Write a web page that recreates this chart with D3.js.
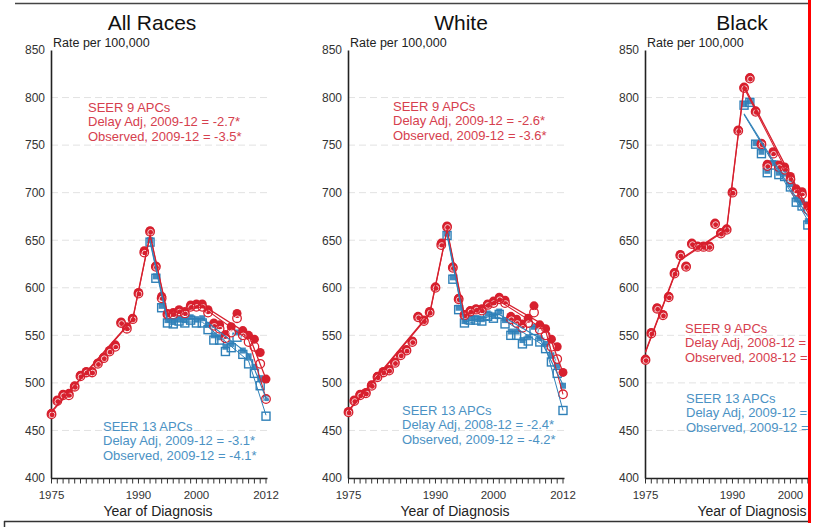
<!DOCTYPE html>
<html>
<head>
<meta charset="utf-8">
<script src="https://cdn.jsdelivr.net/npm/d3@7"></script>
<style>
  body { margin: 0; background: #fff; }
  svg { display: block; }
  text { font-family: "Liberation Sans", Arial, sans-serif; }
</style>
</head>
<body>
<svg id="chart" width="818" height="527"></svg>
<script>
// ---- categories / ticks ----
const panelTitles = ["All Races", "White", "Black"];
const yTickValues = [400, 450, 500, 550, 600, 650, 700, 750, 800, 850];
const gridValues = [450, 500, 550, 600, 650, 700, 750, 800];
const xTickLabels = [1975, 1990, 2000, 2012];
const firstYear9 = 1975;   // SEER 9 series start
const firstYear13 = 1992;  // SEER 13 series start
const lastYear = 2012;

// ---- All Races, rate per 100,000 ----
const allDelay9 = [468, 482, 488, 489, 497, 508, 512, 512, 521, 527, 534, 540, 564, 559, 568, 595, 639, 660, 623, 591,
                   573, 574, 577, 575, 582, 583, 583, 577, 563, 561, 551, 559, 573, 555, 550, 546, 532, 504];
const allObs9   = [467, 481, 487, 487, 496, 507, 511, 511, 520, 526, 533, 538, 563, 557, 567, 594, 637, 659, 622, 589,
                   572, 572, 575, 573, 580, 580, 580, 574, 560, 557, 547, 553, 568, 550, 543, 538, 520, 483];
const allDelay13 = [650, 612, 581, 566, 564, 567, 566, 569, 567, 568, 561, 550, 548, 538, 541, 553, 534, 528, 517, 505, 484];
const allObs13   = [648, 610, 579, 563, 562, 565, 563, 566, 563, 563, 556, 545, 545, 533, 537, 548, 530, 520, 510, 497, 465];
// joinpoint fits: [year, rate]
const allFitDelay9 = [[1975, 470], [1989, 567], [1992, 656], [1995, 573], [2001, 582], [2009, 551], [2012, 504]];
const allFitObs9   = [[1975, 469], [1989, 566], [1992, 655], [1995, 572], [2001, 580], [2009, 545], [2012, 484]];
const allFitDelay13 = [[1992, 650], [1995, 567], [2001, 568], [2009, 530], [2012, 484]];
const allFitObs13   = [[1992, 648], [1995, 564], [2001, 564], [2009, 523], [2012, 466]];

// ---- White ----
const whiteDelay9 = [470, 482, 488, 490, 498, 507, 512, 514, 522, 530, 535, 544, 570, 566, 575, 601, 647, 665, 622, 589,
                     572, 576, 578, 578, 583, 586, 590, 587, 570, 567, 562, 568, 581, 561, 557, 546, 538, 511];
const whiteObs9   = [469, 481, 487, 489, 497, 506, 511, 513, 521, 529, 534, 543, 569, 565, 574, 600, 645, 664, 621, 588,
                     571, 575, 577, 576, 582, 584, 588, 584, 567, 563, 558, 563, 574, 556, 550, 538, 525, 488];
const whiteDelay13 = [657, 611, 579, 565, 568, 568, 567, 573, 571, 575, 566, 554, 554, 545, 548, 559, 547, 541, 529, 518, 497];
const whiteObs13   = [655, 609, 577, 563, 566, 566, 565, 570, 568, 572, 562, 550, 550, 541, 544, 555, 543, 536, 522, 510, 471];
const whiteFitDelay9 = [[1975, 471], [1989, 573], [1992, 661], [1995, 571], [2001, 588], [2009, 560], [2012, 511]];
const whiteFitObs9   = [[1975, 470], [1989, 572], [1992, 660], [1995, 570], [2001, 586], [2009, 555], [2012, 488]];
const whiteFitDelay13 = [[1992, 657], [1995, 564], [2001, 572], [2008, 547], [2012, 498]];
const whiteFitObs13   = [[1992, 655], [1995, 562], [2001, 569], [2009, 538], [2012, 471]];

// ---- Black (1975–2003 shown) ----
const blackDelay9 = [525, 553, 579, 572, 591, 616, 635, 623, 647, 644, 644, 644, 668, 658, 662, 701, 766, 811, 821, 786,
                     752, 730, 743, 729, 727, 717, 704, 701, 686];
const blackObs9   = [524, 552, 578, 571, 590, 615, 634, 622, 646, 643, 643, 643, 667, 657, 661, 700, 765, 810, 820, 785,
                     751, 728, 741, 727, 724, 714, 701, 698, 682];
const blackDelay13 = [793, 796, 752, 743, 723, 731, 721, 720, 709, 693, 690, 670];
const blackObs13   = [792, 795, 751, 741, 721, 729, 719, 717, 706, 690, 686, 666];
const blackFitDelay9 = [[1975, 533], [1981, 630], [1989, 662], [1992, 812], [2003, 683]];
const blackFitObs9   = [[1975, 532], [1981, 629], [1989, 661], [1992, 810], [2003, 679]];
const blackFitDelay13 = [[1992, 783], [2003, 675]];
const blackFitObs13   = [[1992, 782], [2003, 671]];

// ---- APC annotations ----
const apc9Text = [
  ["SEER 9 APCs", "Delay Adj, 2009-12 = -2.7*", "Observed, 2009-12 = -3.5*"],
  ["SEER 9 APCs", "Delay Adj, 2009-12 = -2.6*", "Observed, 2009-12 = -3.6*"],
  ["SEER 9 APCs", "Delay Adj, 2008-12 =", "Observed, 2008-12 ="]
];
const apc13Text = [
  ["SEER 13 APCs", "Delay Adj, 2009-12 = -3.1*", "Observed, 2009-12 = -4.1*"],
  ["SEER 13 APCs", "Delay Adj, 2008-12 = -2.4*", "Observed, 2009-12 = -4.2*"],
  ["SEER 13 APCs", "Delay Adj, 2009-12 =", "Observed, 2009-12 ="]
];

// ---- layout ----
const panelX = [51, 348, 645];
const titleX = [152, 461, 742];
const apc9Pos = [[88, 107], [393, 106], [685, 328]];
const apc13Pos = [[103, 426], [402, 410], [686, 398]];
const plotWidth = 215;
const RED = "#d7202e", RED_TXT = "#d6404e", BLUE = "#2f80b8", BLUE_TXT = "#4b92c4";

const panels = [
  { d9: allDelay9, o9: allObs9, d13: allDelay13, o13: allObs13,
    f: [allFitDelay9, allFitObs9, allFitDelay13, allFitObs13] },
  { d9: whiteDelay9, o9: whiteObs9, d13: whiteDelay13, o13: whiteObs13,
    f: [whiteFitDelay9, whiteFitObs9, whiteFitDelay13, whiteFitObs13] },
  { d9: blackDelay9, o9: blackObs9, d13: blackDelay13, o13: blackObs13,
    f: [blackFitDelay9, blackFitObs9, blackFitDelay13, blackFitObs13] }
];

const svg = d3.select("#chart");
const y = d3.scaleLinear().domain([400, 850]).range([478, 50]);

panels.forEach((p, i) => {
  const x0 = panelX[i];
  const x = d3.scaleLinear().domain([firstYear9, lastYear]).range([x0 + 0.5, x0 + plotWidth]);
  const g = svg.append("g");

  // title
  g.append("text").attr("x", titleX[i]).attr("y", 30).attr("text-anchor", "middle")
    .attr("font-size", 21).attr("fill", "#111").text(panelTitles[i]);
  g.append("text").attr("x", x0 + 2).attr("y", 47).attr("font-size", 12.5).attr("fill", "#222")
    .text("Rate per 100,000");

  // dashed grid
  g.selectAll(".grid").data(gridValues).join("line")
    .attr("x1", x0).attr("x2", x0 + plotWidth + 3)
    .attr("y1", d => y(d)).attr("y2", d => y(d))
    .attr("stroke", "#e2e2e2").attr("stroke-width", 1).attr("stroke-dasharray", "7,4");

  // y axis
  const yAxis = d3.axisLeft(y).tickValues(yTickValues).tickSize(0).tickPadding(6);
  const ya = g.append("g").attr("transform", `translate(${x0},0)`).call(yAxis);
  ya.select(".domain").attr("stroke", "#222").attr("stroke-width", 1.6);
  ya.selectAll("text").attr("font-size", 12).attr("fill", "#333")
    .style("font-family", '"Liberation Sans", Arial, sans-serif');

  // x axis: a minor tick every year, labels at selected years
  const xa = g.append("g").attr("transform", "translate(0,478.5)");
  xa.append("line").attr("x1", x0).attr("x2", x0 + plotWidth + 1.5)
    .attr("stroke", "#222").attr("stroke-width", 1.4);
  xa.selectAll(".tk").data(d3.range(firstYear9, lastYear + 1)).join("line")
    .attr("x1", d => x(d)).attr("x2", d => x(d)).attr("y1", 0).attr("y2", 5)
    .attr("stroke", "#333").attr("stroke-width", 1);
  xa.selectAll(".lb").data(xTickLabels).join("text")
    .attr("x", d => x(d)).attr("y", 20).attr("text-anchor", "middle")
    .attr("font-size", 11.5).attr("fill", "#333").text(d => d);
  g.append("text").attr("x", x0 + 107).attr("y", 516).attr("text-anchor", "middle")
    .attr("font-size", 14).attr("fill", "#222").text("Year of Diagnosis");

  // APC notes
  [[apc9Text[i], apc9Pos[i], RED_TXT], [apc13Text[i], apc13Pos[i], BLUE_TXT]].forEach(([lines, pos, col]) => {
    g.selectAll(null).data(lines).join("text")
      .attr("x", pos[0]).attr("y", (d, k) => pos[1] + k * 14.6)
      .attr("dy", "0.35em").attr("font-size", 13).attr("fill", col).text(d => d);
  });

  const pts = (arr, start) => arr.map((v, k) => ({ yr: start + k, v }));

  // SEER 13 markers: observed open squares, delay-adjusted filled squares
  g.selectAll(".o13").data(pts(p.o13, firstYear13)).join("rect")
    .attr("x", d => x(d.yr) - 4).attr("y", d => y(d.v) - 4).attr("width", 8).attr("height", 8)
    .attr("fill", "none").attr("stroke", BLUE).attr("stroke-width", 1.4);
  g.selectAll(".d13").data(pts(p.d13, firstYear13)).join("rect")
    .attr("x", d => x(d.yr) - 3).attr("y", d => y(d.v) - 3).attr("width", 6).attr("height", 6)
    .attr("fill", BLUE).attr("opacity", 0.9);

  // SEER 9 markers: delay-adjusted filled circles, observed open circles
  g.selectAll(".d9").data(pts(p.d9, firstYear9)).join("circle")
    .attr("cx", d => x(d.yr)).attr("cy", d => y(d.v)).attr("r", 4.5).attr("fill", RED);
  g.selectAll(".o9w").data(pts(p.o9, firstYear9)).join("circle")
    .attr("cx", d => x(d.yr) + 0.6).attr("cy", d => y(d.v) + 0.6).attr("r", 2.9)
    .attr("fill", "none").attr("stroke", "#fff").attr("stroke-width", 0.9).attr("opacity", 0.85);
  g.selectAll(".o9").data(pts(p.o9, firstYear9)).join("circle")
    .attr("cx", d => x(d.yr)).attr("cy", d => y(d.v)).attr("r", 4.3)
    .attr("fill", "none").attr("stroke", RED).attr("stroke-width", 1.3);

  // joinpoint fitted lines
  const line = d3.line().x(d => x(d[0])).y(d => y(d[1]));
  const fitStyle = [[RED, 1.3], [RED, 1.1], [BLUE, 1.1], [BLUE, 1]];
  p.f.forEach((fit, k) => {
    g.append("path").datum(fit).attr("d", line).attr("fill", "none")
      .attr("stroke", fitStyle[k][0]).attr("stroke-width", fitStyle[k][1]);
  });
});

// page frame: cover beyond the right edge, then borders
svg.append("rect").attr("x", 808).attr("y", 0).attr("width", 10).attr("height", 527).attr("fill", "#fff");
svg.append("line").attr("x1", 15).attr("x2", 808).attr("y1", 3.5).attr("y2", 3.5)
  .attr("stroke", "#444").attr("stroke-width", 1.5);
svg.append("line").attr("x1", 4).attr("x2", 808).attr("y1", 521.5).attr("y2", 521.5)
  .attr("stroke", "#333").attr("stroke-width", 1.5);
svg.append("line").attr("x1", 4.5).attr("x2", 4.5).attr("y1", 521).attr("y2", 527)
  .attr("stroke", "#333").attr("stroke-width", 1.5);
svg.append("line").attr("x1", 809.5).attr("x2", 809.5).attr("y1", 0).attr("y2", 523)
  .attr("stroke", "#ff0000").attr("stroke-width", 3);
</script>
</body>
</html>
